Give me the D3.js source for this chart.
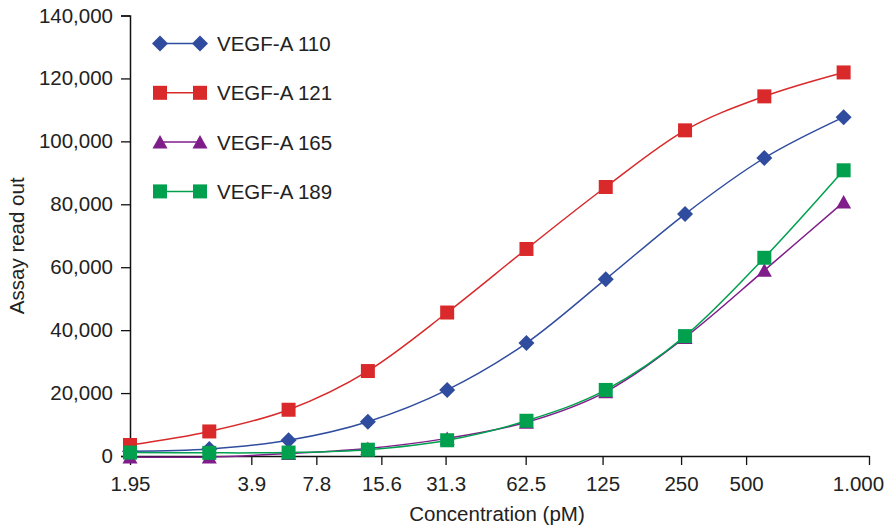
<!DOCTYPE html>
<html>
<head>
<meta charset="utf-8">
<script src="https://cdn.jsdelivr.net/npm/d3@7"></script>
<style>
    body { margin: 0; background: #fff; }
    svg { display: block; font-family: "Liberation Sans", Arial, Helvetica, sans-serif; }
</style>
</head>
<body>
<div id="chart"></div>
<script>
// concentrations (pM) as printed on the axis
const concLabels = ['1.95', '3.9', '7.8', '15.6', '31.3', '62.5', '125', '250', '500', '1.000'];
// where the printed ticks sit, in point-index units (the original axis is not aligned with the points)
const tickAt = [0, 1.53, 2.35, 3.17, 3.98, 4.99, 5.96, 6.95, 7.77, 9.32];
const yTicks = [0, 20000, 40000, 60000, 80000, 100000, 120000, 140000];

const seriesNames = ['VEGF-A 110', 'VEGF-A 121', 'VEGF-A 165', 'VEGF-A 189'];
const vegf110 = [1500, 2200, 5000, 10900, 21000, 35900, 56200, 76900, 94700, 107700];
const vegf121 = [3500, 7800, 14700, 27000, 45600, 65800, 85500, 103500, 114300, 121900];
const vegf165 = [-300, -300, 800, 2400, 5600, 10700, 20400, 37700, 59000, 80700];
const vegf189 = [1100, 1000, 1100, 2000, 5000, 11200, 21000, 38100, 63000, 90800];

const colors = ['#2f4c9f', '#d9292a', '#7f1d8b', '#00a04e'];
const shapes = ['diamond', 'square', 'triangle', 'square'];

const W = 889, H = 529;
const margin = { top: 15.5, right: 20, bottom: 73, left: 130 };

const svg = d3.select('#chart').append('svg')
    .attr('width', W)
    .attr('height', H);

const x = d3.scaleLinear()
    .domain([0, 9.32])
    .range([margin.left, 869]);

const y = d3.scaleLinear()
    .domain([0, 140000])
    .range([H - margin.bottom, margin.top]);

// Y axis
const yAxis = svg.append('g')
    .attr('transform', `translate(${margin.left},0)`)
    .call(d3.axisLeft(y).tickValues(yTicks).tickFormat(d3.format(',')).tickSize(9).tickPadding(8));
yAxis.select('.domain').attr('stroke', '#111').attr('stroke-width', 1.5);
yAxis.selectAll('.tick line').attr('stroke', '#111').attr('stroke-width', 1.3);
yAxis.selectAll('text').style('font-size', '20.5px').attr('fill', '#222');

// X axis
const xAxis = svg.append('g')
    .attr('transform', `translate(0,${y(0)})`)
    .call(d3.axisBottom(x).tickValues(tickAt)
        .tickFormat((d, i) => concLabels[i]).tickSize(9).tickSizeOuter(0).tickPadding(11));
xAxis.select('.domain').attr('stroke', '#111').attr('stroke-width', 1.5);
xAxis.selectAll('.tick line').attr('stroke', '#111').attr('stroke-width', 1.3);
xAxis.selectAll('text').style('font-size', '20.5px').attr('fill', '#222');
// last label sits a little left of its tick in the original, keep it inside the frame
xAxis.selectAll('.tick text').filter((d, i) => i === concLabels.length - 1)
    .attr('dx', -11);

// axis titles
svg.append('text')
    .attr('transform', `translate(24,${(y(0) + y(140000)) / 2 + 10}) rotate(-90)`)
    .attr('text-anchor', 'middle')
    .style('font-size', '20.5px')
    .attr('fill', '#222')
    .text('Assay read out');

svg.append('text')
    .attr('x', 497)
    .attr('y', 521)
    .attr('text-anchor', 'middle')
    .style('font-size', '20.5px')
    .attr('fill', '#222')
    .text('Concentration (pM)');

function markerPath(shape) {
    if (shape === 'diamond') return 'M0,-8L8,0L0,8L-8,0Z';
    if (shape === 'triangle') return 'M0,-7L7.5,6.5L-7.5,6.5Z';
    return 'M-7,-7H7V7H-7Z';
}

const line = d3.line()
    .x((d, i) => x(i))
    .y(d => y(d))
    .curve(d3.curveCatmullRom.alpha(0));

const allSeries = [vegf110, vegf121, vegf165, vegf189];

allSeries.forEach((values, s) => {
    const g = svg.append('g');
    g.append('path')
        .datum(values)
        .attr('d', line)
        .attr('fill', 'none')
        .attr('stroke', colors[s])
        .attr('stroke-width', 1.5);
    g.selectAll('path.pt')
        .data(values)
        .enter()
        .append('path')
        .attr('class', 'pt')
        .attr('d', markerPath(shapes[s]))
        .attr('transform', (d, i) => `translate(${x(i)},${y(d)})`)
        .attr('fill', colors[s]);
});

// legend
const legend = svg.append('g');
seriesNames.forEach((name, s) => {
    const cy = 43.5 + s * 49.3;
    const row = legend.append('g').attr('transform', `translate(0,${cy})`);
    row.append('line')
        .attr('x1', 160).attr('x2', 200)
        .attr('stroke', colors[s]).attr('stroke-width', 1.5);
    [160, 200].forEach(mx => {
        row.append('path')
            .attr('d', markerPath(shapes[s]))
            .attr('transform', `translate(${mx},0)`)
            .attr('fill', colors[s]);
    });
    row.append('text')
        .attr('x', 217)
        .attr('y', 7.5)
        .style('font-size', '20.5px')
        .attr('fill', '#222')
        .text(name);
});
</script>
</body>
</html>
